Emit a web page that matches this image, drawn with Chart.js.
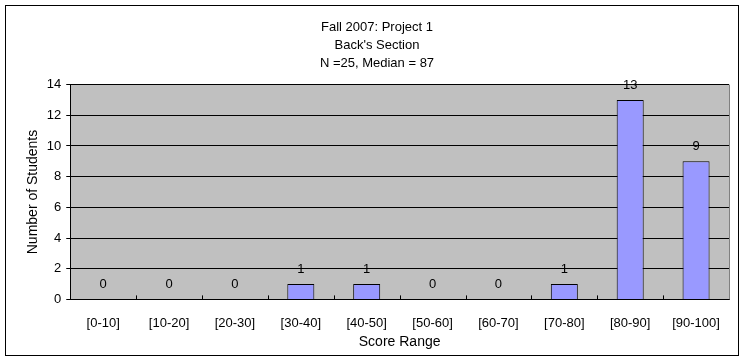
<!DOCTYPE html>
<html>
<head>
<meta charset="utf-8">
<script src="https://cdn.jsdelivr.net/npm/chart.js@4.4.0/dist/chart.umd.min.js"></script>
<style>
  html, body { margin: 0; padding: 0; background: #fff; }
  #wrap { width: 745px; height: 361px; position: relative; }
</style>
</head>
<body>
<div id="wrap"><canvas id="chart" width="745" height="361"></canvas></div>
<script>
// Chart data
const categories = ['[0-10]', '[10-20]', '[20-30]', '[30-40]', '[40-50]', '[50-60]', '[60-70]', '[70-80]', '[80-90]', '[90-100]'];
const students = [0, 0, 0, 1, 1, 0, 0, 1, 13, 9];
const titleLines = ['Fall 2007: Project 1', "Back's Section", 'N =25, Median = 87'];
const yTicks = [0, 2, 4, 6, 8, 10, 12, 14];
const xTitle = 'Score Range';

const FONT = 'Arial, "Liberation Sans", sans-serif';

// Gray plot area, outer frame, inner x ticks, value labels and x title
const excelLook = {
  id: 'excelLook',
  beforeDraw(chart) {
    const { ctx, chartArea: a } = chart;
    ctx.save();
    ctx.fillStyle = '#fff';
    ctx.fillRect(0, 0, chart.width, chart.height);
    ctx.strokeStyle = '#000';
    ctx.lineWidth = 1;
    ctx.strokeRect(5.5, 5.5, 733, 350);
    ctx.fillStyle = '#c0c0c0';
    ctx.fillRect(a.left, a.top, a.right - a.left, a.bottom - a.top);
    ctx.restore();
  },
  afterDatasetsDraw(chart) {
    const { ctx, chartArea: a } = chart;
    const x = chart.scales.x;
    ctx.save();
    // plot border (right side gray)
    ctx.strokeStyle = '#808080';
    ctx.beginPath();
    ctx.moveTo(Math.round(a.right) + 0.5, a.top);
    ctx.lineTo(Math.round(a.right) + 0.5, a.bottom);
    ctx.stroke();
    // small tick marks between categories, pointing up
    ctx.strokeStyle = '#000';
    const step = (a.right - a.left) / categories.length;
    for (let i = 1; i < categories.length; i++) {
      const px = Math.round(x.getPixelForValue(i) - step / 2) + 0.5;
      ctx.beginPath();
      ctx.moveTo(px, a.bottom);
      ctx.lineTo(px, a.bottom - 4);
      ctx.stroke();
    }
    // value labels
    const meta = chart.getDatasetMeta(0);
    ctx.fillStyle = '#000';
    ctx.font = '13px ' + FONT;
    ctx.textAlign = 'center';
    ctx.textBaseline = 'bottom';
    meta.data.forEach((bar, i) => {
      ctx.fillText(String(students[i]), bar.x, bar.y - 8);
    });
    // x axis title
    ctx.font = '14px ' + FONT;
    ctx.textBaseline = 'middle';
    ctx.fillText(xTitle, (a.left + a.right) / 2, 342);
    ctx.restore();
  }
};

new Chart(document.getElementById('chart'), {
  type: 'bar',
  data: {
    labels: categories,
    datasets: [{
      data: students,
      backgroundColor: '#9999ff',
      borderColor: '#000',
      borderWidth: 1,
      categoryPercentage: 1,
      barPercentage: 0.41
    }]
  },
  options: {
    responsive: false,
    animation: false,
    layout: { padding: { left: 25, right: 16, top: 10, bottom: 22 } },
    plugins: {
      legend: { display: false },
      tooltip: { enabled: false },
      title: {
        display: true,
        text: titleLines,
        color: '#000',
        font: { family: FONT, size: 13, weight: 'normal', lineHeight: 1.4 },
        padding: { top: 8, bottom: 12 }
      }
    },
    scales: {
      x: {
        grid: { display: false },
        border: { display: true, color: '#000' },
        ticks: { color: '#000', font: { family: FONT, size: 13 }, padding: 8, maxRotation: 0, autoSkip: false }
      },
      y: {
        min: 0,
        max: 14,
        afterBuildTicks(scale) { scale.ticks = yTicks.map(v => ({ value: v })); },
        grid: { color: '#000', tickLength: 4, drawTicks: true },
        border: { display: true, color: '#000' },
        ticks: { color: '#000', font: { family: FONT, size: 13 }, padding: 5 },
        title: { display: true, text: 'Number of Students', color: '#000', font: { family: FONT, size: 14 }, padding: { top: 0, bottom: 0 } }
      }
    }
  },
  plugins: [excelLook]
});
</script>
</body>
</html>
